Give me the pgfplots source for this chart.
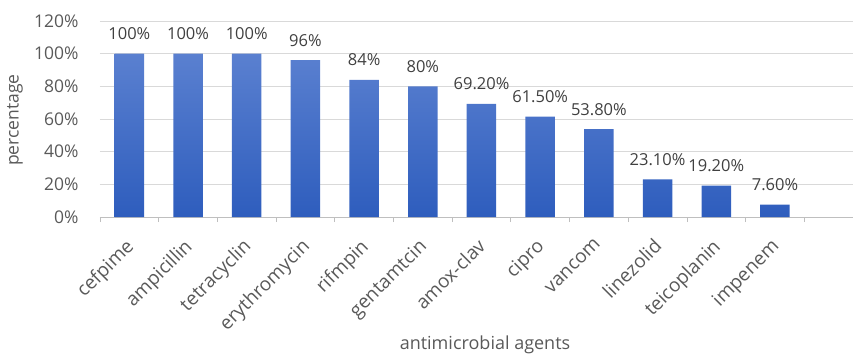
\documentclass[border=0pt]{standalone}
\usepackage{pgfplots}
\pgfplotsset{compat=1.18}
\usepackage{fontspec}
\setmainfont{Open Sans}
\definecolor{bartop}{HTML}{5A80D0}
\definecolor{barbot}{HTML}{2E5DBD}
\definecolor{txt}{HTML}{595959}
\definecolor{lbl}{HTML}{404040}
\definecolor{gridc}{HTML}{D9D9D9}
\definecolor{axc}{HTML}{BFBFBF}
\begin{document}
\begin{tikzpicture}[x=1pt,y=1pt]
\useasboundingbox (0,0) rectangle (853,356);
\begin{axis}[
  at={(100pt,139pt)}, anchor=south west,
  scale only axis,
  width=753pt, height=196pt,
  xmin=-0.5, xmax=12.33,
  ymin=0, ymax=120,
  /pgf/number format/assume math mode=true,
  axis x line*=bottom, axis y line*=left,
  x axis line style={draw=axc, line width=0.8pt},
  y axis line style={draw=none},
  ymajorgrids, grid style={draw=gridc, line width=0.8pt},
  ytick={0,20,...,120},
  yticklabel={\pgfmathprintnumber{\tick}\%},
  yticklabel style={font=\fontsize{17.5}{20}\selectfont, text=txt, inner sep=0pt, anchor=east, xshift=-17pt},
  ytick style={draw=none},
  xtick={0,...,11},
  xticklabels={cefpime,ampicillin,tetracyclin,erythromycin,rifmpin,gentamtcin,amox-clav,cipro,vancom,linezolid,teicoplanin,impenem},
  xticklabel style={font=\fontsize{19}{22}\selectfont, text=txt, inner sep=0pt, xshift=-5pt, yshift=-16pt, rotate=45, anchor=north east},
  major x tick style={draw=none},
  minor xtick={-0.5,0.5,...,11.5},
  minor x tick style={draw=axc, line width=0.8pt},
  minor tick length=5pt,
  tick align=outside,
  xlabel={antimicrobial agents},
  xlabel style={font=\fontsize{18}{20}\selectfont, text=txt, at={(385pt,-128pt)}, anchor=center},
  ylabel={percentage},
  ylabel style={font=\fontsize{17.5}{20}\selectfont, text=txt, at={(-85pt,97pt)}, anchor=center, rotate=0},
  clip=false,
]
\addplot[ybar, bar width=29.5pt, draw=none, top color=bartop, bottom color=barbot,
  point meta=explicit symbolic,
  nodes near coords,
  every node near coord/.append style={font=\fontsize{16.5}{20}\selectfont, text=lbl, anchor=base, inner sep=0pt, yshift=14pt}]
coordinates {
(0,100) [100\%]
(1,100) [100\%]
(2,100) [100\%]
(3,96) [96\%]
(4,84) [84\%]
(5,80) [80\%]
(6,69.2) [69.20\%]
(7,61.5) [61.50\%]
(8,53.8) [53.80\%]
(9,23.1) [23.10\%]
(10,19.2) [19.20\%]
(11,7.6) [7.60\%]
};
\end{axis}
\end{tikzpicture}
\end{document}
